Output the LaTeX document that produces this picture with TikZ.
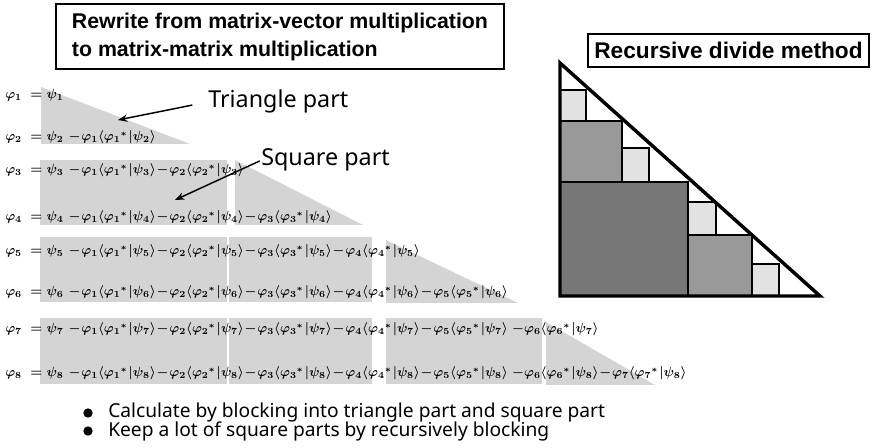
\documentclass[tikz,border=0pt]{standalone}
\usepackage{amsmath}
\usepackage[no-math]{fontspec}
\setmainfont{Noto Sans}
\newfontfamily\headfont{Liberation Sans}
\usetikzlibrary{arrows.meta}

\definecolor{blockgray}{HTML}{D4D4D4}
\definecolor{lightsq}{HTML}{E2E2E2}
\definecolor{midsq}{HTML}{999999}
\definecolor{darksq}{HTML}{777777}

% narrow spacing for binary minus signs in the equation rows
\newcommand\narrowbin{\medmuskip=1mu\relax}
% thick gap used around the relation and before the first minus
\newcommand\wgap{\mskip\thickmuskip}
% one subtracted projection term:  - phi_k <phi_k^* | psi_n>
\newcommand\pterm[2]{-\varphi_{#1}\langle\varphi_{#1}{}^{*}\mskip1.5mu|\psi_{#2}\rangle}
\newcommand\pjoin[2]{\wgap{-}\varphi_{#1}\langle\varphi_{#1}{}^{*}\mskip1.5mu|\psi_{#2}\rangle}
\newcommand\lhs[1]{\varphi_{#1}\wgap= \psi_{#1}\wgap}

\tikzset{
  eqrow/.style={anchor=base west, inner sep=0pt,
    font=\narrowbin\boldmath\fontsize{9.9}{12}\selectfont},
  headbox/.style={draw, line width=1.5pt, font=\headfont\bfseries\fontsize{16}{21}\selectfont},
  partlabel/.style={anchor=base west, inner sep=0pt, font=\fontsize{17.5}{20}\selectfont},
  bullettext/.style={anchor=base west, inner sep=0pt, font=\fontsize{14.4}{15}\selectfont},
  bulletdot/.style={circle, fill=black, inner sep=0pt, minimum size=7pt},
  arr/.style={line width=1.1pt, -{Stealth[length=7pt,width=5.5pt]}},
  sq/.style={draw=black, line width=2pt},
}

\begin{document}
\begin{tikzpicture}[x=0.75pt, y=-0.75pt]
\useasboundingbox (0,0) rectangle (874,448);

% ---------- gray blocks behind the equations ----------
\fill[blockgray] (41,87) -- (41,144) -- (190,144) -- cycle;
\fill[blockgray] (40,160) rectangle (227,225);
\fill[blockgray] (235,160) -- (235,225) -- (363,225) -- cycle;
\fill[blockgray] (40,237) rectangle (227,302);
\fill[blockgray] (229,237) rectangle (372,302);
\fill[blockgray] (386,240) -- (386,303) -- (518,303) -- cycle;
\fill[blockgray] (40,318) rectangle (227,384);
\fill[blockgray] (229,318) rectangle (372,384);
\fill[blockgray] (386,318) rectangle (542,384);
\fill[blockgray] (546,322) -- (546,385) -- (655,385) -- cycle;

% ---------- equations ----------
\node[eqrow] (e1) at (5,99)  {$\varphi_1\wgap= \psi_1$};
\node[eqrow] (e2) at (5,141) {$\lhs2\pterm12$};
\node[eqrow] (e3) at (5,174) {$\lhs3\pterm13\pterm23$};
\node[eqrow] (e4) at (5,221) {$\lhs4\pterm14\pterm24\pterm34$};
\node[eqrow] (e5) at (5,255) {$\lhs5\pterm15\pterm25\pterm35\pterm45$};
\node[eqrow] (e6) at (5,296) {$\lhs6\pterm16\pterm26\pterm36\pterm46\pterm56$};
\node[eqrow] (e7) at (5,333) {$\lhs7\pterm17\pterm27\pterm37\pterm47\pterm57\pjoin67$};
\node[eqrow] (e8) at (5,377) {$\lhs8\pterm18\pterm28\pterm38\pterm48\pterm58\pjoin68\pterm78$};

% ---------- headings ----------
\node[headbox, anchor=north west, minimum width=336pt, minimum height=48.75pt,
      align=left] (head1) at (55,3)
  {Rewrite from matrix-vector multiplication\\to matrix-matrix multiplication};
\node[headbox, anchor=north west, minimum width=210.75pt, minimum height=24.75pt,
      font=\headfont\bfseries\fontsize{17}{19}\selectfont] (head2) at (587,33)
  {Recursive divide method};

% ---------- part labels with arrows ----------
\node[partlabel] (tlab) at (208,108) {Triangle part};
\node[partlabel] (slab) at (261,166) {Square part};
\coordinate (ttip) at (118,120);
\coordinate (stip) at (175,200);
\draw[arr, shorten <=12pt] (tlab.west) -- (ttip);
\draw[arr, shorten <=1pt] (slab.west) -- (stip);

% ---------- recursive division of the triangle ----------
\draw[sq, fill=lightsq] (560,90)  rectangle (586,121);
\draw[sq, fill=midsq]   (560,121) rectangle (622,182);
\draw[sq, fill=lightsq] (622,148) rectangle (649,182);
\draw[sq, fill=darksq]  (560,182) rectangle (688,296);
\draw[sq, fill=lightsq] (688,202) rectangle (716,235);
\draw[sq, fill=midsq]   (688,235) rectangle (752,296);
\draw[sq, fill=lightsq] (752,264) rectangle (779,296);
\draw[line width=2.6pt, line join=miter] (560,63) -- (560,296) -- (820,296) -- cycle;

% ---------- bullet points ----------
\node[bulletdot] (d1) at (88,413) {};
\node[bullettext] (b1) at (108,418) {Calculate by blocking into triangle part and square part};
\node[bulletdot] (d2) at (88,431) {};
\node[bullettext] (b2) at (108,436) {Keep a lot of square parts by recursively blocking};
\end{tikzpicture}
\end{document}
